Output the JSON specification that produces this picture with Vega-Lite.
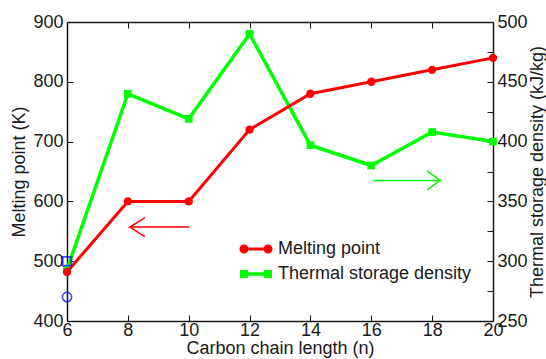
{
  "$schema": "https://vega.github.io/schema/vega-lite/v6.json",
  "width": 426,
  "height": 299,
  "autosize": "none",
  "padding": {"left": 67, "top": 22, "right": 53, "bottom": 38},
  "config": {
    "font": "Liberation Sans",
    "view": {"stroke": null},
    "axis": {
      "labelFont": "Liberation Sans", "labelFontSize": 18, "labelColor": "#1a1a1a",
      "titleFont": "Liberation Sans", "titleFontSize": 18, "titleFontWeight": "normal", "titleColor": "#1a1a1a",
      "domainColor": "#1a1a1a", "tickColor": "#1a1a1a", "domainWidth": 1.5, "tickWidth": 1,
      "grid": false, "tickSize": -6, "labelFlush": false, "labelOverlap": false, "labelBound": false
    }
  },
  "datasets": {
    "main": [
      {"n": 6, "series": "Melting point", "value": 482},
      {"n": 8, "series": "Melting point", "value": 600},
      {"n": 10, "series": "Melting point", "value": 600},
      {"n": 12, "series": "Melting point", "value": 720},
      {"n": 14, "series": "Melting point", "value": 780},
      {"n": 16, "series": "Melting point", "value": 800},
      {"n": 18, "series": "Melting point", "value": 820},
      {"n": 20, "series": "Melting point", "value": 840},
      {"n": 6, "series": "Thermal storage density", "value": 293},
      {"n": 8, "series": "Thermal storage density", "value": 440},
      {"n": 10, "series": "Thermal storage density", "value": 419},
      {"n": 12, "series": "Thermal storage density", "value": 490},
      {"n": 14, "series": "Thermal storage density", "value": 397},
      {"n": 16, "series": "Thermal storage density", "value": 380},
      {"n": 18, "series": "Thermal storage density", "value": 408},
      {"n": 20, "series": "Thermal storage density", "value": 400}
    ],
    "extra": [
      {"n": 6, "value": 500, "kind": "square"},
      {"n": 6, "value": 440, "kind": "circle"}
    ],
    "arrows": [
      {"arrow": "left", "seg": "a", "k": 1, "n": 10.02, "value": 557},
      {"arrow": "left", "seg": "a", "k": 2, "n": 8.07, "value": 557},
      {"arrow": "left", "seg": "a", "k": 3, "n": 8.56, "value": 573},
      {"arrow": "left", "seg": "b", "k": 1, "n": 8.07, "value": 557},
      {"arrow": "left", "seg": "b", "k": 2, "n": 8.56, "value": 541},
      {"arrow": "right", "seg": "a", "k": 1, "n": 16.06, "value": 635},
      {"arrow": "right", "seg": "a", "k": 2, "n": 18.26, "value": 635},
      {"arrow": "right", "seg": "a", "k": 3, "n": 17.83, "value": 651},
      {"arrow": "right", "seg": "b", "k": 1, "n": 18.26, "value": 635},
      {"arrow": "right", "seg": "b", "k": 2, "n": 17.83, "value": 619}
    ]
  },
  "layer": [
    {
      "data": {"name": "main"},
      "transform": [{"filter": "datum.series === 'Thermal storage density'"}],
      "mark": {"type": "line", "color": "#00ff00", "strokeWidth": 3.5, "point": {"filled": true, "shape": "square", "size": 60, "color": "#00ff00"}},
      "encoding": {
        "x": {"field": "n", "type": "quantitative", "scale": {"domain": [6, 20], "nice": false, "zero": false},
          "axis": {"orient": "top", "labels": false, "title": null, "values": [6, 8, 10, 12, 14, 16, 18, 20]}},
        "y": {"field": "value", "type": "quantitative", "scale": {"domain": [250, 500], "nice": false, "zero": false},
          "axis": {"orient": "right", "values": [250, 275, 300, 325, 350, 375, 400, 425, 450, 475, 500],
            "labelExpr": "datum.value % 50 === 0 ? datum.label : ''",
            "title": "Thermal storage density (kJ/kg)", "titleAngle": -90, "titleBaseline": "top",
            "labelPadding": 10, "titlePadding": 1}}
      }
    },
    {
      "layer": [
        {
          "data": {"name": "main"},
          "transform": [{"filter": "datum.series === 'Melting point'"}],
          "mark": {"type": "line", "color": "#ff0000", "strokeWidth": 3, "point": {"filled": true, "shape": "circle", "size": 70, "color": "#ff0000"}},
          "encoding": {
            "x": {"field": "n", "type": "quantitative",
              "axis": {"values": [6, 8, 10, 12, 14, 16, 18, 20], "title": "Carbon chain length (n)", "labelPadding": 6, "titlePadding": 0}},
            "y": {"field": "value", "type": "quantitative", "scale": {"domain": [400, 900], "nice": false, "zero": false},
              "axis": {"orient": "left", "values": [400, 450, 500, 550, 600, 650, 700, 750, 800, 850, 900],
                "labelExpr": "datum.value % 100 === 0 ? datum.label : ''",
                "title": "Melting point (K)", "labelPadding": 10, "titlePadding": 4}}
          }
        },
        {
          "data": {"name": "arrows"},
          "transform": [{"filter": "datum.arrow === 'left'"}],
          "mark": {"type": "line", "color": "#ff0000", "strokeWidth": 1.5},
          "encoding": {
            "x": {"field": "n", "type": "quantitative"},
            "y": {"field": "value", "type": "quantitative"},
            "detail": {"field": "seg"},
            "order": {"field": "k"}
          }
        },
        {
          "data": {"name": "arrows"},
          "transform": [{"filter": "datum.arrow === 'right'"}],
          "mark": {"type": "line", "color": "#00ff00", "strokeWidth": 1.5},
          "encoding": {
            "x": {"field": "n", "type": "quantitative"},
            "y": {"field": "value", "type": "quantitative"},
            "detail": {"field": "seg"},
            "order": {"field": "k"}
          }
        },
        {
          "data": {"name": "extra"},
          "transform": [{"filter": "datum.kind === 'square'"}],
          "mark": {"type": "point", "filled": false, "shape": "square", "color": "#0000ff", "strokeWidth": 1.8, "size": 75},
          "encoding": {
            "x": {"field": "n", "type": "quantitative"},
            "y": {"field": "value", "type": "quantitative"}
          }
        },
        {
          "data": {"name": "extra"},
          "transform": [{"filter": "datum.kind === 'circle'"}],
          "mark": {"type": "point", "filled": false, "shape": "circle", "color": "#0000ff", "strokeWidth": 1.8, "size": 85},
          "encoding": {
            "x": {"field": "n", "type": "quantitative"},
            "y": {"field": "value", "type": "quantitative"}
          }
        },
        {
          "data": {"name": "main"},
          "transform": [{"filter": "datum.series === 'Melting point'"}],
          "mark": {"type": "point", "filled": true, "opacity": 0},
          "encoding": {
            "x": {"field": "n", "type": "quantitative"},
            "y": {"field": "value", "type": "quantitative"},
            "color": {"field": "series", "type": "nominal",
              "scale": {"domain": ["Melting point", "Thermal storage density"], "range": ["#ff0000", "#00ff00"]},
              "legend": {"title": null, "orient": "none", "legendX": 179, "legendY": 217, "padding": 0,
                "symbolSize": 400, "symbolStrokeWidth": 0, "symbolOpacity": 1, "labelFont": "Liberation Sans", "labelFontSize": 18,
                "labelColor": "#1a1a1a", "labelOffset": 12, "labelLimit": 0, "rowPadding": 6}},
            "shape": {"field": "series", "type": "nominal",
              "legend": {"title": null, "orient": "none", "legendX": 179, "legendY": 217, "padding": 0,
                "symbolSize": 400, "symbolStrokeWidth": 0, "symbolOpacity": 1, "labelFont": "Liberation Sans", "labelFontSize": 18,
                "labelColor": "#1a1a1a", "labelOffset": 12, "labelLimit": 0, "rowPadding": 6},
              "scale": {"domain": ["Melting point", "Thermal storage density"],
                "range": [
                  "M-1.65,0A0.45,0.45,0,1,0,-0.75,0A0.45,0.45,0,1,0,-1.65,0Z M0.75,0A0.45,0.45,0,1,0,1.65,0A0.45,0.45,0,1,0,0.75,0Z M-0.75,-0.15L0.75,-0.15L0.75,0.15L-0.75,0.15Z",
                  "M-1.6,-0.4L-0.8,-0.4L-0.8,0.4L-1.6,0.4Z M0.8,-0.4L1.6,-0.4L1.6,0.4L0.8,0.4Z M-0.8,-0.17L0.8,-0.17L0.8,0.17L-0.8,0.17Z"
                ]}}
          }
        }
      ]
    }
  ],
  "resolve": {"scale": {"y": "independent"}, "axis": {"x": "independent"}}
}
